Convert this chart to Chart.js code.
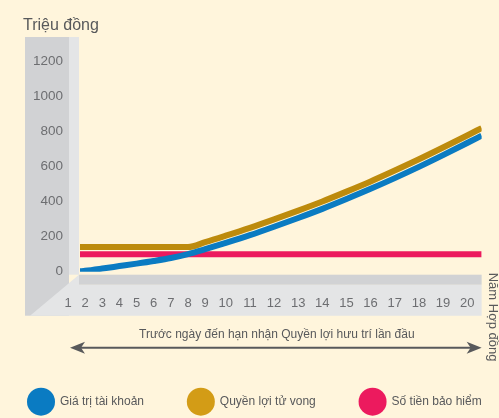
<!DOCTYPE html>
<html lang="vi">
<head>
<meta charset="UTF-8">
<title>Giá trị tài khoản theo năm hợp đồng</title>
<script src="https://cdn.jsdelivr.net/npm/chart.js"></script>
<style>
    body {
        margin: 0;
        background: #fff5dc;
    }
    .wrap {
        width: 499px;
        height: 418px;
    }
</style>
</head>
<body>
<div class="wrap"><canvas id="chart"></canvas></div>
<script>
// tick labels
const years = [1, 2, 3, 4, 5, 6, 7, 8, 9, 10, 11, 12, 13, 14, 15, 16, 17, 18, 19, 20];
const valueStep = 200;
const valueMax = 1200;

// contract year of each point (triệu đồng)
const pointYears   = [1.7, 2, 3, 4, 5, 6, 7, 8, 9, 10, 11, 12, 13, 14, 15, 16, 17, 18, 19, 20, 20.6];
const accountValue = [2, 5, 18, 32, 46, 61, 78, 100, 128, 164, 208, 256, 306, 358, 414, 472, 533, 597, 664, 733, 775];
const deathBenefit = [140, 140, 140, 140, 140, 140, 140, 140, 168, 205, 250, 298, 348, 400, 456, 514, 576, 640, 707, 776, 818];
const sumInsured   = [100, 100, 100, 100, 100, 100, 100, 100, 100, 100, 100, 100, 100, 100, 100, 100, 100, 100, 100, 100, 100];

const seriesNames = ['Giá trị tài khoản', 'Quyền lợi tử vong', 'Số tiền bảo hiểm'];

const FONT = "'Liberation Sans', Arial, sans-serif";
const TEXT = '#58595b';

// year labels sit one gap apart, so two-digit years take wider steps
const labelGap = 1.45; // in digit widths
function step(k) {
    const a = Math.min(Math.max(k, 1), 19);
    return labelGap + (String(a).length + String(a + 1).length) / 2;
}
function warp(v) {
    const k = Math.min(Math.max(Math.floor(v), 1), 19);
    let pos = 0;
    for (let i = 1; i < k; i++) pos += step(i);
    return pos + (v - k) * step(k);
}

class YearScale extends Chart.LinearScale {
    getPixelForValue(value) {
        if (value === null || value === undefined) return NaN;
        const a = warp(this.min), b = warp(this.max);
        return this.getPixelForDecimal((warp(value) - a) / (b - a));
    }
}
YearScale.id = 'year';
Chart.register(YearScale);

function toPoints(values) {
    return values.map((v, i) => ({ x: pointYears[i], y: v }));
}

function poly(ctx, pts) {
    ctx.beginPath();
    pts.forEach((p, i) => i ? ctx.lineTo(p[0], p[1]) : ctx.moveTo(p[0], p[1]));
    ctx.closePath();
    ctx.fill();
}

// grey wall on the left and floor under the chart
const frame = {
    id: 'frame',
    beforeDraw(chart) {
        const { ctx } = chart;
        const { left: L, right: R, top: T, bottom: B } = chart.chartArea;
        ctx.save();
        ctx.fillStyle = '#fff5dc';
        ctx.fillRect(0, 0, chart.width, chart.height);
        ctx.fillStyle = '#d1d2d4';
        ctx.fillRect(L - 55, T - 24, 44, B + 44 - (T - 24));
        ctx.fillStyle = '#e4e5e6';
        ctx.fillRect(L - 11, T - 24, 10, B + 3 - (T - 24));
        poly(ctx, [[L - 1, B + 3], [L - 1, B + 13], [R, B + 13], [R, B + 44], [L - 50, B + 44]]);
        ctx.fillStyle = '#d1d2d4';
        ctx.fillRect(L - 1, B + 3, R - L + 1, 10);
        ctx.restore();
    }
};

// title, arrow, captions and legend
const notes = {
    id: 'notes',
    afterDraw(chart) {
        const { ctx } = chart;
        const { left: L, right: R, top: T, bottom: B } = chart.chartArea;
        ctx.save();
        ctx.fillStyle = TEXT;
        ctx.font = '16px ' + FONT;
        ctx.textBaseline = 'alphabetic';
        ctx.textAlign = 'left';
        ctx.fillText('Triệu đồng', L - 57, T - 31);

        // double arrow
        const ay = B + 76, x0 = L - 10, x1 = R;
        ctx.strokeStyle = TEXT;
        ctx.lineWidth = 2;
        ctx.beginPath();
        ctx.moveTo(x0 + 6, ay);
        ctx.lineTo(x1 - 6, ay);
        ctx.stroke();
        poly(ctx, [[x0, ay], [x0 + 15, ay - 6], [x0 + 11, ay], [x0 + 15, ay + 6]]);
        poly(ctx, [[x1, ay], [x1 - 15, ay - 6], [x1 - 11, ay], [x1 - 15, ay + 6]]);

        ctx.font = '12px ' + FONT;
        ctx.textAlign = 'center';
        ctx.textBaseline = 'middle';
        ctx.fillText('Trước ngày đến hạn nhận Quyền lợi hưu trí lần đầu', (x0 + x1) / 2 + 1, B + 63);

        ctx.save();
        ctx.translate(R + 11, B + 1);
        ctx.rotate(Math.PI / 2);
        ctx.font = '13px ' + FONT;
        ctx.textAlign = 'left';
        ctx.fillText('Năm Hợp đồng', 0, 0);
        ctx.restore();

        // legend spread from wall edge to chart right
        const r = 14, gap = 5, cy = B + 130;
        ctx.font = '12px ' + FONT;
        ctx.textAlign = 'left';
        const items = chart.data.datasets.map(d => ({ label: d.label, color: d.backgroundColor, w: 2 * r + gap + ctx.measureText(d.label).width }));
        const start = L - 53;
        const used = items.reduce((s, it) => s + it.w, 0);
        const space = (R - start - used) / (items.length - 1);
        let x = start;
        items.forEach(it => {
            ctx.fillStyle = it.color;
            ctx.beginPath();
            ctx.arc(x + r, cy, r, 0, Math.PI * 2);
            ctx.fill();
            ctx.fillStyle = TEXT;
            ctx.fillText(it.label, x + 2 * r + gap, cy);
            x += it.w + space;
        });
        ctx.restore();
    }
};

new Chart(document.getElementById('chart'), {
    type: 'line',
    data: {
        datasets: [
            {
                label: seriesNames[0],
                data: toPoints(accountValue),
                borderColor: '#0a7bc2',
                backgroundColor: '#0a7bc2',
                cubicInterpolationMode: 'monotone'
            },
            {
                label: seriesNames[1],
                data: toPoints(deathBenefit),
                borderColor: '#bd8b0d',
                backgroundColor: '#d39c16',
                cubicInterpolationMode: 'monotone'
            },
            {
                label: seriesNames[2],
                data: toPoints(sumInsured),
                borderColor: '#ec1a5e',
                backgroundColor: '#ec1a5e',
                tension: 0
            }
        ]
    },
    options: {
        responsive: true,
        maintainAspectRatio: false,
        animation: false,
        layout: { padding: { top: 61, left: 25, right: 17, bottom: 0 } },
        elements: {
            point: { radius: 0, hoverRadius: 0 },
            line: { borderWidth: 6, fill: false, borderCapStyle: 'butt' }
        },
        scales: {
            x: {
                type: 'year',
                min: pointYears[0],
                max: pointYears[pointYears.length - 1],
                grid: { display: false, drawTicks: false },
                border: { display: false },
                afterBuildTicks: s => { s.ticks = years.map(v => ({ value: v })); },
                afterFit: s => { s.height = 146.3; },
                ticks: {
                    autoSkip: false,
                    maxRotation: 0,
                    padding: 24,
                    color: '#6d6e71',
                    font: { family: FONT, size: 13 },
                    callback: v => String(v)
                }
            },
            y: {
                min: 0,
                max: valueMax,
                grid: { display: false, drawTicks: false },
                border: { display: false },
                afterFit: s => { s.width = 55; },
                ticks: {
                    stepSize: valueStep,
                    padding: 17,
                    color: '#6d6e71',
                    font: { family: FONT, size: 13.5 },
                    callback: v => String(v)
                }
            }
        },
        plugins: {
            legend: { display: false },
            tooltip: { enabled: false }
        }
    },
    plugins: [frame, notes]
});
</script>
</body>
</html>
